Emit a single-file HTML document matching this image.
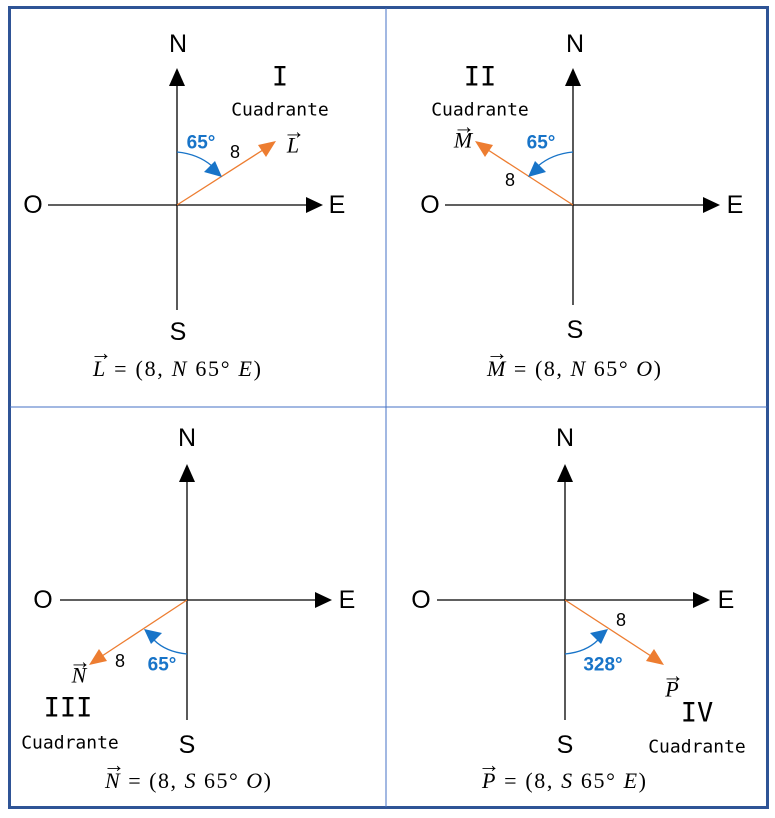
<!DOCTYPE html>
<html><head><meta charset="utf-8"><style>
body{margin:0;background:#fff}
text{font-family:"Liberation Sans",sans-serif}
text.ax{font-size:25px;fill:#000}
text.q{font-family:"DejaVu Sans Mono","Liberation Mono",monospace;font-size:18px}
text.qn{font-family:"DejaVu Sans Mono","Liberation Mono",monospace;font-size:27px}
text.f{font-family:"Liberation Serif",serif;font-size:22px}
.i{font-style:italic}
text.b{fill:#1874c8;font-size:19px;font-weight:bold}
text.n{font-size:18px}
</style></head><body>
<svg width="775" height="813" viewBox="0 0 775 813" xmlns="http://www.w3.org/2000/svg">
<rect x="9.5" y="7.5" width="758" height="800" fill="#fff" stroke="#2F5496" stroke-width="3"/>
<line x1="386" y1="8" x2="386" y2="807" stroke="#4472C4" stroke-width="1"/>
<line x1="10" y1="407" x2="767" y2="407" stroke="#4472C4" stroke-width="1"/>

<g stroke="#000" stroke-width="1.3">
<line x1="177" y1="84" x2="177" y2="310"/><line x1="48" y1="205" x2="306" y2="205"/>
<line x1="573" y1="84" x2="573" y2="305"/><line x1="445" y1="205" x2="703" y2="205"/>
<line x1="187" y1="480" x2="187" y2="720"/><line x1="60" y1="600" x2="315" y2="600"/>
<line x1="565" y1="480" x2="565" y2="720"/><line x1="437" y1="600" x2="693" y2="600"/>
</g>
<g fill="#000">
<path d="M169,86 L177,68 L185,86Z"/><path d="M306,197 L323,205 L306,213Z"/>
<path d="M565,86 L573,68 L581,86Z"/><path d="M703,197 L720,205 L703,213Z"/>
<path d="M179,482 L187,464 L195,482Z"/><path d="M315,592 L332,600 L315,608Z"/>
<path d="M557,482 L565,464 L573,482Z"/><path d="M693,592 L710,600 L693,608Z"/>
</g>
<g stroke="#ED7D31" stroke-width="1.3">
<line x1="177" y1="205" x2="266" y2="148"/>
<line x1="573" y1="205" x2="485" y2="148"/>
<line x1="187" y1="600" x2="99" y2="658"/>
<line x1="565" y1="600" x2="654" y2="658"/>
</g>
<g fill="#ED7D31">
<path d="M276,141 L258,145 L266,157Z"/>
<path d="M475,141 L493,145 L485,157Z"/>
<path d="M89,665 L107,661 L99,649Z"/>
<path d="M664,665 L646,661 L654,649Z"/>
</g>
<g stroke="#1874c8" stroke-width="1.3" fill="none">
<path d="M177,152 Q198,154 212,166"/>
<path d="M573,152 Q552,154 538,166"/>
<path d="M187,654 Q166,652 154,640"/>
<path d="M565,654 Q586,652 598,640"/>
</g>
<g fill="#1874c8">
<path d="M222,177 L204,172 L215,161Z"/>
<path d="M528,177 L546,172 L535,161Z"/>
<path d="M144,629 L162,633 L151,644Z"/>
<path d="M608,629 L590,633 L601,644Z"/>
</g>
<g text-anchor="middle" dominant-baseline="central">
<text class="ax" x="178" y="44">N</text><text class="ax" x="337" y="205">E</text><text class="ax" x="33" y="205">O</text><text class="ax" x="178" y="332">S</text>
<text class="ax" x="575" y="44">N</text><text class="ax" x="735" y="205">E</text><text class="ax" x="430" y="205">O</text><text class="ax" x="575" y="330">S</text>
<text class="ax" x="187" y="438">N</text><text class="ax" x="347" y="600">E</text><text class="ax" x="43" y="600">O</text><text class="ax" x="187" y="745">S</text>
<text class="ax" x="565" y="438">N</text><text class="ax" x="726" y="600">E</text><text class="ax" x="421" y="600">O</text><text class="ax" x="565" y="745">S</text>
<text class="b" x="201" y="143">65°</text><text class="b" x="541" y="143">65°</text>
<text class="b" x="162" y="665">65°</text><text class="b" x="603" y="665">328°</text>
<text class="n" x="235" y="152">8</text><text class="n" x="510" y="180">8</text>
<text class="n" x="120" y="661">8</text><text class="n" x="621" y="620">8</text>
<text class="qn" x="280" y="77">I</text><text class="q" x="280" y="110">Cuadrante</text>
<text class="qn" x="480" y="77">II</text><text class="q" x="480" y="110">Cuadrante</text>
<text class="qn" x="68" y="708">III</text><text class="q" x="70" y="743">Cuadrante</text>
<text class="qn" x="697" y="713">IV</text><text class="q" x="697" y="747">Cuadrante</text>
<text class="f i" x="293" y="145" font-size="20">L</text><text class="f" x="294" y="131" font-size="14">→</text>
<text class="f i" x="463" y="140" font-size="20">M</text><text class="f" x="464" y="126" font-size="14">→</text>
<text class="f i" x="79" y="675" font-size="20">N</text><text class="f" x="80" y="661" font-size="14">→</text>
<text class="f i" x="672" y="689" font-size="20">P</text><text class="f" x="673" y="675" font-size="14">→</text>
</g>
<text class="f" x="93" y="376" textLength="168" lengthAdjust="spacing"><tspan class="i">L</tspan> = (8,  <tspan class="i">N</tspan> 65° <tspan class="i">E</tspan>)</text>
<text class="f" x="487" y="376" textLength="174" lengthAdjust="spacing"><tspan class="i">M</tspan> = (8,  <tspan class="i">N</tspan> 65° <tspan class="i">O</tspan>)</text>
<text class="f" x="105" y="788" textLength="166" lengthAdjust="spacing"><tspan class="i">N</tspan> = (8,  <tspan class="i">S</tspan> 65° <tspan class="i">O</tspan>)</text>
<text class="f" x="482" y="788" textLength="164" lengthAdjust="spacing"><tspan class="i">P</tspan> = (8,  <tspan class="i">S</tspan> 65° <tspan class="i">E</tspan>)</text>
<g text-anchor="middle">
<text class="f" font-size="14" x="101" y="360">→</text><text class="f" font-size="14" x="497" y="360">→</text>
<text class="f" font-size="14" x="114" y="772">→</text><text class="f" font-size="14" x="489" y="772">→</text>
</g>
</svg>
</body></html>
